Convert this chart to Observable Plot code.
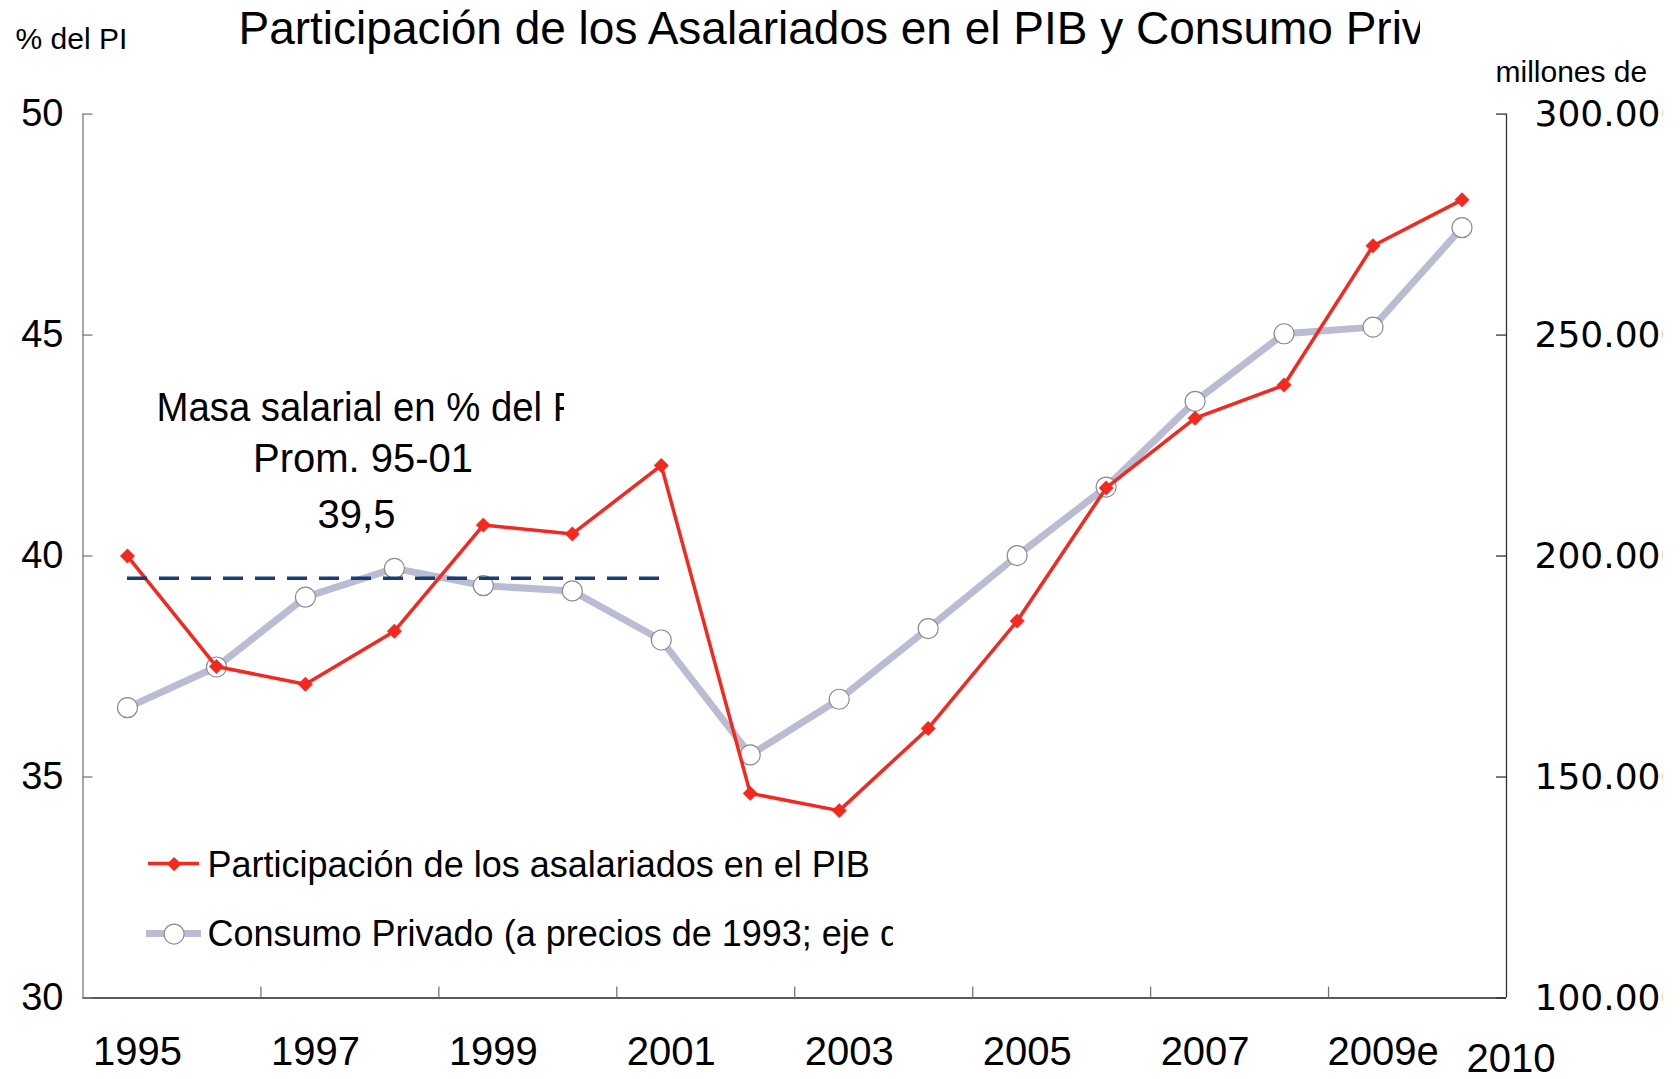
<!DOCTYPE html>
<html>
<head>
<meta charset="utf-8">
<script src="https://cdn.jsdelivr.net/npm/d3@7"></script>
<script src="https://cdn.jsdelivr.net/npm/@observablehq/plot@0.6"></script>
<style>
  html, body { margin: 0; padding: 0; background: #fff; overflow: hidden; }
  #chart { width: 1680px; height: 1079px; background: #fff; }
</style>
</head>
<body>
<div id="chart"></div>
<script>
// ---- data ----
const years = [1995, 1996, 1997, 1998, 1999, 2000, 2001, 2002, 2003, 2004, 2005, 2006, 2007, 2008, 2009, 2010];
const participacion = [40.0, 37.5, 37.1, 38.3, 40.7, 40.5, 42.05, 34.63, 34.24, 36.1, 38.53, 41.54, 43.12, 43.87, 47.02, 48.06];
const consumo = [165700, 174900, 190700, 197200, 193300, 192100, 181000, 155000, 167600, 183600, 200100, 215600, 235000, 250300, 251800, 274300];
const promedioValor = 39.5;
const promedioYears = [1995, 2001];
const leftTicks = [30, 35, 40, 45, 50];
const rightTicks = [100000, 150000, 200000, 250000, 300000];
const rightTickLabels = ["100.000", "150.000", "200.000", "250.000", "300.000"];
const xTickBoundaries = [1996.5, 1998.5, 2000.5, 2002.5, 2004.5, 2006.5, 2008.5];
const xLabelYears = [1995, 1997, 1999, 2001, 2003, 2005, 2007, 2009];
const xLabelTexts = ["1995", "1997", "1999", "2001", "2003", "2005", "2007", "2009e"];
const lastLabelYear = [2010];
const lastLabelText = ["2010"];
const titleText = "Participación de los Asalariados en el PIB y Consumo Privado";
const leftUnit = "% del PI";
const rightUnit = "millones de";
const annotationLines = ["Masa salarial en % del PIB", "Prom. 95-01", "39,5"];
const legendLabels = ["Participación de los asalariados en el PIB", "Consumo Privado (a precios de 1993; eje derecho)"];

// ---- styling ----
const RED = "#f5281e";
const GRAY = "#b9bcd2";
const NAVY = "#1b3a78";
const FONT = "Liberation Sans, Arial, sans-serif";

const W = 1663, H = 1079;
const mL = 82.5, mT = 113.6, mR = W - 1506, mB = H - 997.5;
const frameW = W - mL - mR, frameH = H - mT - mB;

// consumo axis mapped onto left axis domain
const toLeft = d3.scaleLinear().domain([100000, 300000]).range([30, 50]);
const table = years.map((year, i) => ({year, part: participacion[i], cons: toLeft(consumo[i])}));
const rightTable = rightTicks.map((v, i) => ({y: toLeft(v), label: rightTickLabels[i]}));

const legendSwatches = (index, scales, values, dims) => {
  const g = d3.create("svg:g");
  const x0 = dims.marginLeft, y0 = dims.marginTop;
  g.append("line").attr("x1", x0 + 65.5).attr("x2", x0 + 116.5)
    .attr("y1", y0 + 750).attr("y2", y0 + 750)
    .attr("stroke", RED).attr("stroke-width", 3.5);
  g.append("line").attr("x1", x0 + 63.5).attr("x2", x0 + 118.5)
    .attr("y1", y0 + 820).attr("y2", y0 + 820)
    .attr("stroke", GRAY).attr("stroke-width", 7);
  return g.node();
};

const chart = Plot.plot({
  width: W,
  height: H,
  marginLeft: mL,
  marginRight: mR,
  marginTop: mT,
  marginBottom: mB,
  style: {background: "#fff", fontFamily: FONT, color: "#000"},
  x: {domain: [1994.5, 2010.5], axis: null},
  y: {domain: [30, 50], axis: null},
  marks: [
    // axis lines
    Plot.ruleX([1994.5], {stroke: "#7a7a7a", strokeWidth: 1.3}),
    Plot.ruleX([2010.5], {stroke: "#333", strokeWidth: 1.3}),
    Plot.ruleY([30], {stroke: "#222", strokeWidth: 1.5}),
    // inward ticks
    Plot.ruleY(leftTicks, {insetRight: frameW - 10, stroke: "#7a7a7a", strokeWidth: 1.3}),
    Plot.ruleY(leftTicks, {insetLeft: frameW - 10, stroke: "#333", strokeWidth: 1.3}),
    Plot.ruleX(xTickBoundaries, {insetTop: frameH - 11, stroke: "#777", strokeWidth: 1.3}),
    // tick labels
    Plot.text(leftTicks, {y: d => d, frameAnchor: "left", dx: -19.5, textAnchor: "end", lineAnchor: "middle", fontSize: 38, fill: "#000"}),
    Plot.text(rightTable, {y: "y", text: "label", frameAnchor: "right", dx: 28, textAnchor: "start", lineAnchor: "middle", fontSize: 36, fontFamily: "DejaVu Sans", fill: "#000"}),
    Plot.text(xLabelYears, {x: d => d, text: (d, i) => xLabelTexts[i], frameAnchor: "bottom", dx: 10, dy: 66.5, textAnchor: "middle", lineAnchor: "bottom", fontSize: 40, fill: "#000"}),
    Plot.text(lastLabelYear, {x: d => d, text: (d, i) => lastLabelText[i], frameAnchor: "bottom", dx: 49, dy: 73.5, textAnchor: "middle", lineAnchor: "bottom", fontSize: 40, fill: "#000"}),
    // unit labels & title
    Plot.text([leftUnit], {frameAnchor: "top-left", dx: -67.5, dy: -65.6, textAnchor: "start", lineAnchor: "bottom", fontSize: 30, fill: "#000"}),
    Plot.text([rightUnit], {frameAnchor: "top-right", dx: -11, dy: -32.6, textAnchor: "start", lineAnchor: "bottom", fontSize: 30, fill: "#000"}),
    Plot.text([titleText], {frameAnchor: "top-left", dx: 155.5, dy: -70.6, textAnchor: "start", lineAnchor: "bottom", fontSize: 46, fill: "#000", ariaDescription: "clip-title"}),
    // series
    Plot.line(table, {x: "year", y: "cons", stroke: GRAY, strokeWidth: 7}),
    Plot.dot(table, {x: "year", y: "cons", r: 10, fill: "#fff", stroke: "#8c8c8c", strokeWidth: 1.2}),
    Plot.line(table, {x: "year", y: "part", stroke: RED, strokeWidth: 3.5}),
    Plot.dot(table, {x: "year", y: "part", symbol: "diamond2", r: 6.5, fill: RED, stroke: RED, strokeWidth: 0.5}),
    Plot.ruleY([promedioValor], {x1: promedioYears[0], x2: promedioYears[1], stroke: NAVY, strokeWidth: 3.5, strokeDasharray: "20,12"}),
    // annotation
    Plot.text([annotationLines[0]], {frameAnchor: "top-left", dx: 73.5, dy: 306.4, textAnchor: "start", lineAnchor: "bottom", fontSize: 40, fill: "#000", ariaDescription: "clip-annot"}),
    Plot.text([annotationLines[1]], {frameAnchor: "top-left", dx: 280, dy: 357.4, textAnchor: "middle", lineAnchor: "bottom", fontSize: 40, fill: "#000"}),
    Plot.text([annotationLines[2]], {frameAnchor: "top-left", dx: 273.5, dy: 413.4, textAnchor: "middle", lineAnchor: "bottom", fontSize: 40, fill: "#000"}),
    // legend
    legendSwatches,
    Plot.dot([0], {frameAnchor: "top-left", dx: 91.1, dy: 750, symbol: "diamond2", r: 6.5, fill: RED}),
    Plot.dot([0], {frameAnchor: "top-left", dx: 91.1, dy: 820, r: 10, fill: "#fff", stroke: "#8c8c8c", strokeWidth: 1.2}),
    Plot.text([legendLabels[0]], {frameAnchor: "top-left", dx: 124.5, dy: 762.4, textAnchor: "start", lineAnchor: "bottom", fontSize: 36, fill: "#000"}),
    Plot.text([legendLabels[1]], {frameAnchor: "top-left", dx: 124.5, dy: 832, textAnchor: "start", lineAnchor: "bottom", fontSize: 36, fill: "#000", ariaDescription: "clip-legend"})
  ]
});

// clip texts that are cut off in the original text boxes
const svg = d3.select(chart);
const defs = svg.append("defs");
function clipRight(desc, xMax, id) {
  const node = svg.select(`g[aria-description="${desc}"]`).node();
  if (!node) return;
  defs.append("clipPath").attr("id", id).attr("clipPathUnits", "userSpaceOnUse")
    .append("rect").attr("x", 0).attr("y", 0).attr("width", xMax).attr("height", H);
  const wrap = document.createElementNS("http://www.w3.org/2000/svg", "g");
  node.parentNode.insertBefore(wrap, node);
  wrap.appendChild(node);
  wrap.setAttribute("clip-path", `url(#${id})`);
}
// compress the first annotation line slightly to the original's narrower face
svg.selectAll(`g[aria-description="clip-annot"] text`).attr("textLength", 458).attr("lengthAdjust", "spacingAndGlyphs");
clipRight("clip-title", 1420, "clipTitle");
clipRight("clip-annot", 564, "clipAnnot");
clipRight("clip-legend", 893, "clipLegend");

document.getElementById("chart").appendChild(chart);
</script>
</body>
</html>
